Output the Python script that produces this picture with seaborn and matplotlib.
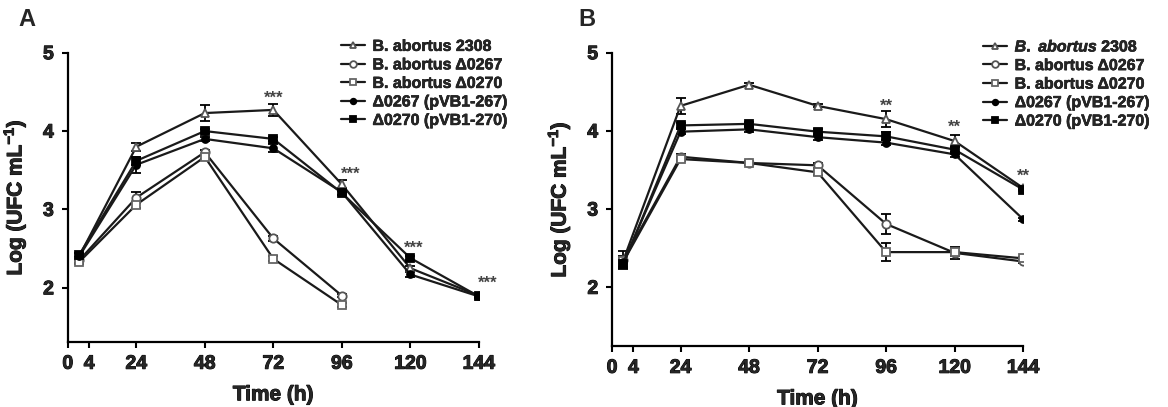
import numpy as np
import pandas as pd
import matplotlib
matplotlib.use("Agg")
import matplotlib.pyplot as plt
import matplotlib.patheffects as pe
import seaborn as sns

sns.set_theme(style="ticks")
plt.rcParams["font.family"] = ["Liberation Sans", "DejaVu Sans"]
plt.rcParams["font.weight"] = "bold"
plt.rcParams["mathtext.fontset"] = "custom"
plt.rcParams["mathtext.rm"] = "Liberation Sans:bold"
plt.rcParams["mathtext.it"] = "Liberation Sans:italic:bold"
plt.rcParams["mathtext.bf"] = "Liberation Sans:bold"

# time points (h)
times = [4, 24, 48, 72, 96, 120, 144]
xtick_pos = [0, 7.5, 24, 48, 72, 96, 120, 144]
xtick_lab = ["0", "4", "24", "48", "72", "96", "120", "144"]

strains = ["B. abortus 2308", "B. abortus Δ0267", "B. abortus Δ0270",
           "Δ0267 (pVB1-267)", "Δ0270 (pVB1-270)"]

# panel A (NaN = no data)
a_2308 = [2.40, 3.80, 4.23, 4.27, 3.32, 2.25, 1.90]
a_2308_err = [0.04, 0.05, 0.10, 0.08, 0.05, 0.03, 0.02]
a_0267 = [2.35, 3.15, 3.73, 2.63, 1.90, np.nan, np.nan]
a_0267_err = [0.03, 0.07, 0.03, 0.03, 0.02, np.nan, np.nan]
a_0270 = [2.33, 3.06, 3.67, 2.37, 1.78, np.nan, np.nan]
a_0270_err = [0.03, 0.04, 0.03, 0.03, 0.02, np.nan, np.nan]
a_c267 = [2.40, 3.57, 3.90, 3.78, 3.22, 2.17, 1.89]
a_c267_err = [0.04, 0.10, 0.03, 0.05, 0.03, 0.03, 0.02]
a_c270 = [2.42, 3.62, 4.00, 3.90, 3.21, 2.38, 1.89]
a_c270_err = [0.03, 0.05, 0.03, 0.03, 0.03, 0.03, 0.02]

# panel B
b_2308 = [2.35, 4.32, 4.59, 4.32, 4.15, 3.87, 3.27]
b_2308_err = [0.12, 0.10, 0.02, 0.02, 0.10, 0.08, 0.02]
b_0267 = [2.35, 3.67, 3.59, 3.56, 2.81, 2.44, 2.33]
b_0267_err = [0.05, 0.03, 0.03, 0.03, 0.13, 0.08, 0.02]
b_0270 = [2.33, 3.64, 3.59, 3.47, 2.45, 2.45, 2.37]
b_0270_err = [0.05, 0.03, 0.03, 0.03, 0.12, 0.05, 0.02]
b_c267 = [2.32, 3.99, 4.02, 3.92, 3.85, 3.70, 2.87]
b_c267_err = [0.05, 0.03, 0.03, 0.03, 0.03, 0.03, 0.02]
b_c270 = [2.30, 4.07, 4.09, 3.99, 3.93, 3.76, 3.25]
b_c270_err = [0.05, 0.03, 0.03, 0.03, 0.05, 0.03, 0.02]

# significance marks
a_star_x = [72, 99, 121, 147]
a_star_y = [4.42, 3.45, 2.50, 2.06]
b_star_x = [96, 120, 144]
b_star_y = [4.32, 4.05, 3.42]

markers = ["^", "o", "s", "o", "s"]
faces = ["white", "white", "white", "black", "black"]
edges = ["#555555", "#555555", "#666666", "black", "black"]
msizes = [6, 6, 6, 5, 6]

heavy = [pe.withStroke(linewidth=0.7, foreground="black")]

fig = plt.figure(figsize=(11.68, 4.07), dpi=100)
axA = fig.add_axes([0.058, 0.160, 0.352, 0.7105])
axB = fig.add_axes([0.524, 0.150, 0.352, 0.7205])


def draw(ax, vals, errs, stars_x, stars_y, stars, ylo, legend_labels):
    for i, (v, e) in enumerate(zip(vals, errs)):
        df = pd.DataFrame({"t": times, "v": v}).dropna()
        de = pd.DataFrame({"t": times, "v": v, "e": e}).dropna()
        ax.errorbar(de["t"], de["v"], yerr=de["e"], fmt="none", ecolor="black",
                    elinewidth=1.3, capsize=3.5, capthick=1.3, zorder=2)
        sns.lineplot(data=df, x="t", y="v", ax=ax, color="#1a1a1a", lw=1.6,
                     marker=markers[i], markersize=msizes[i], markerfacecolor=faces[i],
                     markeredgecolor=edges[i], markeredgewidth=1.3,
                     label=legend_labels[i], zorder=3)
    for sx, sy in zip(stars_x, stars_y):
        ax.text(sx, sy, stars, ha="center", va="center", fontsize=12,
                color="#444444", fontweight="bold")
    ax.set_xlim(0, 144)
    ax.set_ylim(ylo, 5)
    ax.set_xticks(xtick_pos)
    ax.set_xticklabels(xtick_lab)
    ax.set_yticks([2, 3, 4, 5])
    ax.set_yticklabels(["2", "3", "4", "5"])
    ax.tick_params(axis="both", labelsize=14, width=1.5, length=4, direction="out",
                   color="black", pad=6)
    for lab in ax.get_xticklabels() + ax.get_yticklabels():
        lab.set_fontweight("bold")
        lab.set_path_effects(heavy)
    sns.despine(ax=ax)
    for sp in ["left", "bottom"]:
        ax.spines[sp].set_linewidth(1.6)
        ax.spines[sp].set_color("black")
    ax.spines["left"].set_bounds(ylo, 5)
    ax.set_xlabel("Time (h)", fontsize=15, fontweight="bold", labelpad=9,
                  path_effects=heavy)
    ax.set_ylabel("Log (UFC mL$^{-1}$)", fontsize=15, fontweight="bold", labelpad=11,
                  path_effects=heavy)


draw(axA, [a_2308, a_0267, a_0270, a_c267, a_c270],
     [a_2308_err, a_0267_err, a_0270_err, a_c267_err, a_c270_err],
     a_star_x, a_star_y, "***", 1.31, strains)
legA = axA.legend(loc="upper left", bbox_to_anchor=(0.648, 1.07), frameon=False,
                  fontsize=11.5, handlelength=1.5, handletextpad=0.5,
                  labelspacing=0.22, borderaxespad=0, markerscale=0.8)

labelsB = [r"$B.\ abortus$ 2308"] + strains[1:]
draw(axB, [b_2308, b_0267, b_0270, b_c267, b_c270],
     [b_2308_err, b_0267_err, b_0270_err, b_c267_err, b_c270_err],
     b_star_x, b_star_y, "**", 1.25, labelsB)
legB = axB.legend(loc="upper left", bbox_to_anchor=(0.886, 1.07), frameon=False,
                  fontsize=11.5, handlelength=1.5, handletextpad=0.5,
                  labelspacing=0.22, borderaxespad=0, markerscale=0.8)
for leg in [legA, legB]:
    for t in leg.get_texts():
        t.set_fontweight("bold")
        t.set_path_effects([pe.withStroke(linewidth=0.4, foreground="black")])

fig.text(18 / 1168, 1 - 20 / 407, "A", fontsize=17, fontweight="bold", va="center")
fig.text(578 / 1168, 1 - 20 / 407, "B", fontsize=17, fontweight="bold", va="center")

fig.savefig("out.png", dpi=100)
